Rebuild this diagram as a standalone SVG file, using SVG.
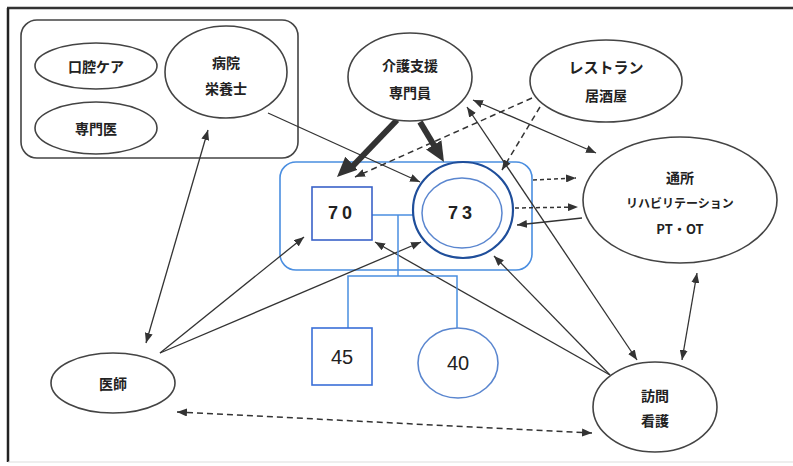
<svg xmlns="http://www.w3.org/2000/svg" width="793" height="466" viewBox="0 0 793 466">
<defs>
<style>
.node{fill:#fff;stroke:#444;stroke-width:1.6}
.t{font-family:"Noto Sans CJK JP","Liberation Sans",sans-serif;font-weight:bold;fill:#222;text-anchor:middle;dominant-baseline:central}
.n{font-family:"Liberation Sans",Arial,sans-serif;fill:#222;text-anchor:middle;dominant-baseline:central}
.ln{stroke:#333;stroke-width:1.3;fill:none}
.ds{stroke:#333;stroke-width:1.5;fill:none;stroke-dasharray:6 4}
.dt{stroke:#333;stroke-width:1.5;fill:none;stroke-dasharray:4 3}
.thick{stroke:#333;stroke-width:6;fill:none}
</style>
<marker id="a" viewBox="0 0 10 8" refX="10" refY="4" markerWidth="10" markerHeight="8" markerUnits="userSpaceOnUse" orient="auto-start-reverse"><path d="M0,0 L10,4 L0,8 z" fill="#333"/></marker>
<marker id="big" viewBox="0 0 20 18" refX="20" refY="9" markerWidth="20" markerHeight="18" markerUnits="userSpaceOnUse" orient="auto"><path d="M0,0 L20,9 L0,18 z" fill="#333"/></marker>
</defs>
<rect width="793" height="466" fill="#fff"/>
<g id="frame">
<line x1="7" y1="8" x2="793" y2="8" stroke="#333" stroke-width="2.5"/>
<line x1="8" y1="8" x2="8" y2="462" stroke="#222" stroke-width="2.5"/>
<line x1="8" y1="462" x2="793" y2="462" stroke="#ddd" stroke-width="1"/>
</g>
<g id="group-box"><rect x="21" y="20" width="277" height="138" rx="16" fill="none" stroke="#444" stroke-width="1.6"/></g>
<g id="family-box"><rect x="280" y="162" width="252" height="108" rx="16" fill="#fff" stroke="#4a8ee0" stroke-width="1.6"/></g>
<g id="connectors">
<line class="ln" x1="268" y1="113" x2="420" y2="182" marker-end="url(#a)"/>
<line class="ln" x1="146" y1="343" x2="208" y2="130" marker-start="url(#a)" marker-end="url(#a)"/>
<line class="ln" x1="160" y1="353" x2="304" y2="237" marker-end="url(#a)"/>
<line class="ln" x1="160" y1="353" x2="421" y2="242" marker-end="url(#a)"/>
<line class="ln" x1="610" y1="375" x2="375" y2="242" marker-end="url(#a)"/>
<line class="ln" x1="610" y1="375" x2="494" y2="256" marker-end="url(#a)"/>
<line class="ln" x1="467" y1="107" x2="637" y2="360" marker-start="url(#a)" marker-end="url(#a)"/>
<line class="ln" x1="473" y1="100" x2="596" y2="153" marker-start="url(#a)" marker-end="url(#a)"/>
<line class="ds" x1="532" y1="98" x2="355" y2="177" marker-end="url(#a)"/>
<line class="ds" x1="540" y1="107" x2="502" y2="170" marker-end="url(#a)"/>
<line class="thick" x1="397" y1="120" x2="350" y2="169"/>
<line x1="397" y1="120" x2="337" y2="177" stroke="none" marker-end="url(#big)"/>
<line class="thick" x1="420" y1="122" x2="438" y2="152"/>
<line x1="420" y1="122" x2="444" y2="162" stroke="none" marker-end="url(#big)"/>
<line class="dt" x1="533" y1="180" x2="576" y2="178" marker-end="url(#a)"/>
<line class="dt" x1="515" y1="208" x2="578" y2="207" marker-end="url(#a)"/>
<line class="ln" x1="582" y1="218" x2="517" y2="225" marker-end="url(#a)"/>
<line class="ln" x1="697" y1="273" x2="682" y2="360" marker-start="url(#a)" marker-end="url(#a)"/>
<line class="ds" x1="177" y1="412" x2="592" y2="433" marker-start="url(#a)" marker-end="url(#a)"/>
<polyline points="372,215 422,215" fill="none" stroke="#4a8ee0" stroke-width="1.5"/>
<polyline points="398,215 398,276" fill="none" stroke="#4a8ee0" stroke-width="1.5"/>
<polyline points="348,328 348,276 457,276 457,328" fill="none" stroke="#4a8ee0" stroke-width="1.5"/>
</g>
<g id="n-oral"><ellipse class="node" cx="96" cy="66" rx="61" ry="23"/><text class="t" x="96" y="66" font-size="14">口腔ケア</text></g>
<g id="n-specialist"><ellipse class="node" cx="96" cy="128" rx="61" ry="26"/><text class="t" x="96" y="128" font-size="14">専門医</text></g>
<g id="n-hospital"><ellipse class="node" cx="226" cy="72" rx="61" ry="46"/><text class="t" x="226" y="62" font-size="14">病院</text><text class="t" x="226" y="88" font-size="14">栄養士</text></g>
<g id="n-care"><ellipse class="node" cx="410" cy="77" rx="62" ry="44"/><text class="t" x="410" y="65" font-size="14">介護支援</text><text class="t" x="410" y="92" font-size="14">専門員</text></g>
<g id="n-restaurant"><ellipse class="node" cx="606" cy="81" rx="76" ry="41"/><text class="t" x="606" y="66" font-size="15" font-weight="normal">レストラン</text><text class="t" x="606" y="95" font-size="14">居酒屋</text></g>
<g id="n-dayservice"><ellipse class="node" cx="680" cy="200" rx="97" ry="63"/><text class="t" x="680" y="177" font-size="14">通所</text><text class="t" x="680" y="202" font-size="12">リハビリテーション</text><text class="t" x="680" y="228" font-size="13">PT・OT</text></g>
<g id="n-doctor"><ellipse class="node" cx="113" cy="383" rx="62" ry="30"/><text class="t" x="113" y="383" font-size="14">医師</text></g>
<g id="n-visit"><ellipse class="node" cx="655" cy="407" rx="62" ry="45"/><text class="t" x="655" y="395" font-size="14">訪問</text><text class="t" x="655" y="420" font-size="14">看護</text></g>
<g id="n-70"><rect x="312" y="187" width="60" height="53" fill="#fff" stroke="#3a62c8" stroke-width="1.6"/><text class="n" x="342" y="213" font-size="18" font-weight="bold" letter-spacing="4">70</text></g>
<g id="n-73"><ellipse cx="463" cy="210" rx="50" ry="48" fill="#fff" stroke="#1f4e9a" stroke-width="2.2"/><ellipse cx="462" cy="213" rx="40" ry="35" fill="#fff" stroke="#5a86cf" stroke-width="1.5"/><text class="n" x="462" y="213" font-size="18" font-weight="bold" letter-spacing="4">73</text></g>
<g id="n-45"><rect x="312" y="328" width="60" height="57" fill="#fff" stroke="#3a6fd8" stroke-width="1.6"/><text class="n" x="342" y="357" font-size="20">45</text></g>
<g id="n-40"><ellipse cx="458" cy="363" rx="40" ry="35" fill="#fff" stroke="#5a86cf" stroke-width="1.6"/><text class="n" x="458" y="363" font-size="20">40</text></g>
</svg>
